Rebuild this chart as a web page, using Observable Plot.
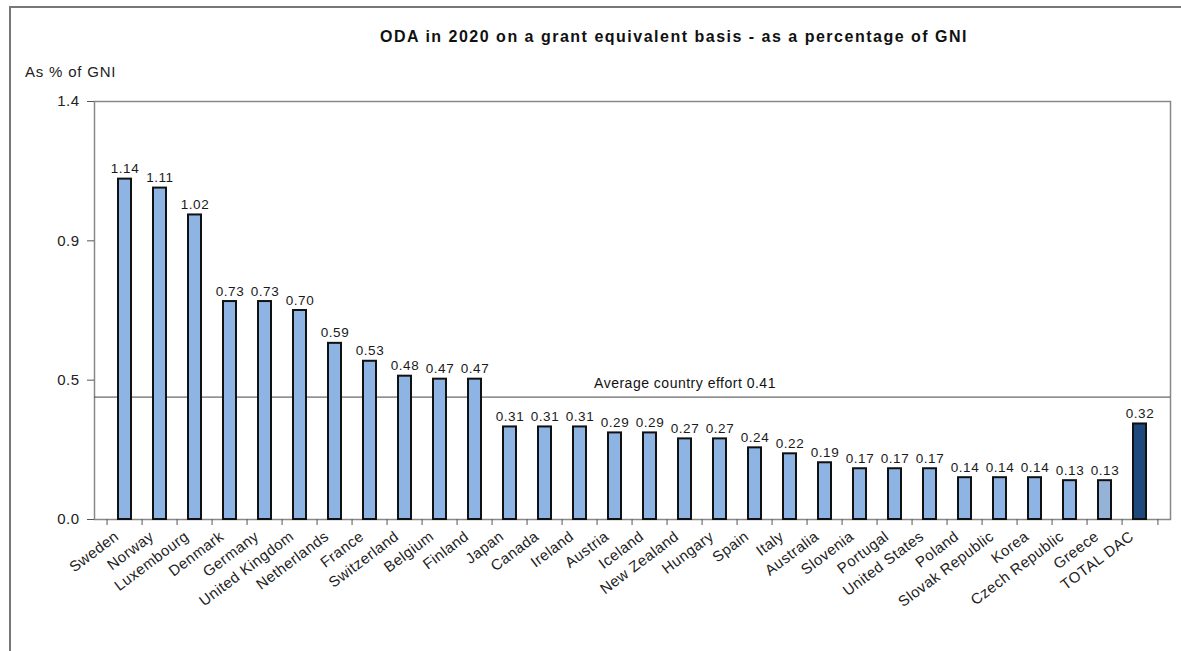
<!DOCTYPE html>
<html><head><meta charset="utf-8">
<script src="https://cdn.jsdelivr.net/npm/d3@7"></script>
<script src="https://cdn.jsdelivr.net/npm/@observablehq/plot@0.6"></script>
<style>
body{margin:0;background:#fff;font-family:"Liberation Sans",Arial,sans-serif;overflow:hidden;}
#box{position:absolute;left:9px;top:6px;width:1300px;height:800px;border-left:2px solid #777;border-top:2px solid #777;z-index:5;pointer-events:none;background:transparent;}
#title{position:absolute;left:0;width:1348px;top:28px;text-align:center;font-weight:bold;font-size:16px;color:#111;letter-spacing:1.5px;}
#ylab{position:absolute;left:25px;top:63px;font-size:15px;color:#222;letter-spacing:0.8px;}
#chart{position:absolute;left:0;top:80px;}
#chart svg text{letter-spacing:0.5px;}
</style></head>
<body>
<div id="box"></div>
<div id="title">ODA in 2020 on a grant equivalent basis - as a percentage of GNI</div>
<div id="ylab">As % of GNI</div>
<div id="chart"></div>
<script>
const countries = ["Sweden","Norway","Luxembourg","Denmark","Germany","United Kingdom","Netherlands","France","Switzerland","Belgium","Finland","Japan","Canada","Ireland","Austria","Iceland","New Zealand","Hungary","Spain","Italy","Australia","Slovenia","Portugal","United States","Poland","Slovak Republic","Korea","Czech Republic","Greece","TOTAL DAC"];
const values = [1.14,1.11,1.02,0.73,0.73,0.70,0.59,0.53,0.48,0.47,0.47,0.31,0.31,0.31,0.29,0.29,0.27,0.27,0.24,0.22,0.19,0.17,0.17,0.17,0.14,0.14,0.14,0.13,0.13,0.32];
const yTicks = [0, 1.4/3, 2.8/3, 1.4];
const average = 0.41;
const averageLabel = "Average country effort 0.41";

const data = countries.map((c, i) => ({country: c, value: values[i]}));
const colorOf = c => c === "TOTAL DAC" ? "#1f497d" : c === "Greece" ? "#95b3d7" : "#8db4e3";

const W = 1181, H = 571, mL = 94, mR = 11, mT = 21, mB = 132;
const step = (W - mL - mR) / countries.length;

const chart = Plot.plot({
  width: W, height: H,
  marginLeft: mL, marginRight: mR, marginTop: mT, marginBottom: mB,
  style: {fontFamily: "'Liberation Sans', Arial, sans-serif", background: "#fff", color: "#222"},
  x: {domain: countries, padding: 0, label: null},
  y: {domain: [0, 1.4], label: null},
  marks: [
    Plot.frame({stroke: "#888", strokeWidth: 1.5}),
    Plot.ruleY([average], {stroke: "#444", strokeWidth: 1}),
    Plot.text([average], {x: () => "New Zealand", y: d => d, text: () => averageLabel, dy: -14, fontSize: 14, fill: "#111", textAnchor: "middle"}),
    Plot.barY(data, {x: "country", y: "value", fill: d => colorOf(d.country), stroke: "#111", strokeWidth: 2, insetLeft: 11, insetRight: 11}),
    Plot.text(data, {x: "country", y: "value", text: d => d.value.toFixed(2), dy: -6, lineAnchor: "bottom", fontSize: 13.5, fill: "#1a1a1a"}),
    Plot.axisY({ticks: yTicks, tickFormat: d3.format(".1f"), tickSize: 7, tickPadding: 8, fontSize: 15, stroke: "#555", color: "#222", label: null}),
    Plot.axisX({ticks: countries, tickFormat: () => "", tickSize: 6, dx: -step / 2, stroke: "#555", label: null}),
    Plot.axisX({ticks: [countries[countries.length - 1]], tickFormat: () => "", tickSize: 6, dx: step / 2, stroke: "#555", label: null}),
    Plot.axisX({ticks: countries, tickSize: 0, tickPadding: 15, tickRotate: -37, fontSize: 15, fill: "#222", dx: -8, label: null})
  ]
});
document.getElementById("chart").appendChild(chart);
</script>
</body></html>
